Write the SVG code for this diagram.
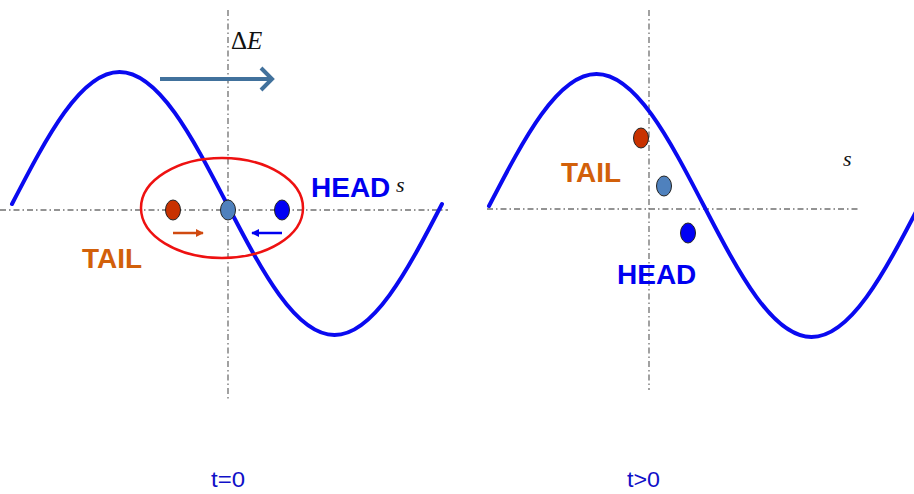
<svg xmlns="http://www.w3.org/2000/svg" width="914" height="494" viewBox="0 0 914 494">
<style>
.axis{stroke:#707070;stroke-width:1.3;stroke-dasharray:6 3 1.5 3;fill:none}
.wave{stroke:#0A0AF0;stroke-width:4;fill:none;stroke-linecap:round}
.lbl{font-family:"Liberation Sans",Arial,sans-serif;font-weight:bold;font-size:28px}
.tail{fill:#D2600A}
.head{fill:#0000F0}
.s{font-family:"Liberation Serif","Times New Roman",serif;font-style:italic;font-size:22px;fill:#111}
.time{font-family:"Liberation Sans",Arial,sans-serif;font-size:22px;fill:#1010C8}
.dot{stroke:#222;stroke-width:1}
</style>
<defs>
<marker id="ahR" viewBox="0 0 10 10" refX="9" refY="5" markerWidth="3.2" markerHeight="3.2" orient="auto" markerUnits="strokeWidth"><path d="M0,0 L10,5 L0,10 z" fill="#D04A10"/></marker>
<marker id="ahB" viewBox="0 0 10 10" refX="9" refY="5" markerWidth="3.2" markerHeight="3.2" orient="auto" markerUnits="strokeWidth"><path d="M0,0 L10,5 L0,10 z" fill="#0000F0"/></marker>
</defs>
<rect width="914" height="494" fill="#fff"/>
<g id="axes">
<line class="axis" x1="0" y1="210" x2="448" y2="210"/>
<line class="axis" x1="228" y1="10" x2="228" y2="400"/>
<line class="axis" x1="487" y1="209" x2="860" y2="209"/>
<line class="axis" x1="649" y1="10" x2="649" y2="390"/>
</g>
<g id="waves">
<path id="wave-left" class="wave" d="M12,204 C47.06,136.4 80.6,72 119.5,72 C158.4,72 191.9,136.4 227,204 C262.1,271.6 295.6,335 334.5,335 C373.4,335 406.9,271.6 442,204"/>
<path id="wave-right" class="wave" d="M489,206 C524.06,138.4 557.6,74 596.5,74 C635.4,74 668.9,138.4 704,206 C739.1,273.6 772.6,337 811.5,337 C850.4,337 883.9,273.6 919,206"/>
</g>
<g id="region-ellipse"><ellipse cx="222" cy="208" rx="81" ry="50" fill="none" stroke="#EE1111" stroke-width="2.5"/></g>
<g id="tail-left"><ellipse class="dot" cx="173" cy="210" rx="7.5" ry="10" fill="#C83200"/></g>
<g id="center-left"><ellipse class="dot" cx="228" cy="210" rx="7.5" ry="10" fill="#4F81BD"/></g>
<g id="head-left"><ellipse class="dot" cx="282" cy="210" rx="7.5" ry="10" fill="#0000F5"/></g>
<g id="tail-right"><ellipse class="dot" cx="641" cy="138" rx="7.5" ry="10" fill="#C83200"/></g>
<g id="center-right"><ellipse class="dot" cx="664" cy="186" rx="7.5" ry="10" fill="#4F81BD"/></g>
<g id="head-right"><ellipse class="dot" cx="688" cy="233" rx="7.5" ry="10" fill="#0000F5"/></g>
<g id="connectors">
<line x1="160" y1="79" x2="271" y2="79" stroke="#41719C" stroke-width="4"/>
<polyline points="261,68 272,79 261,90" fill="none" stroke="#41719C" stroke-width="4"/>
<line x1="173" y1="233" x2="203" y2="233" stroke="#D04A10" stroke-width="2.5" marker-end="url(#ahR)"/>
<line x1="282" y1="233" x2="252" y2="233" stroke="#0000F0" stroke-width="2.5" marker-end="url(#ahB)"/>
</g>
<g id="labels">
<text x="231" y="49" font-family="'Liberation Serif','Times New Roman',serif" font-size="25" fill="#111">Δ<tspan font-style="italic">E</tspan></text>
<text class="lbl head" x="311" y="197">HEAD</text>
<text class="s" x="396" y="192">s</text>
<text class="lbl tail" x="82" y="268">TAIL</text>
<text class="lbl tail" x="561" y="182">TAIL</text>
<text class="lbl head" x="617" y="284">HEAD</text>
<text class="s" x="843" y="166">s</text>
<text class="time" x="211" y="487" textLength="34" lengthAdjust="spacingAndGlyphs">t=0</text>
<text class="time" x="627" y="487" textLength="33" lengthAdjust="spacingAndGlyphs">t&gt;0</text>
</g>
</svg>
